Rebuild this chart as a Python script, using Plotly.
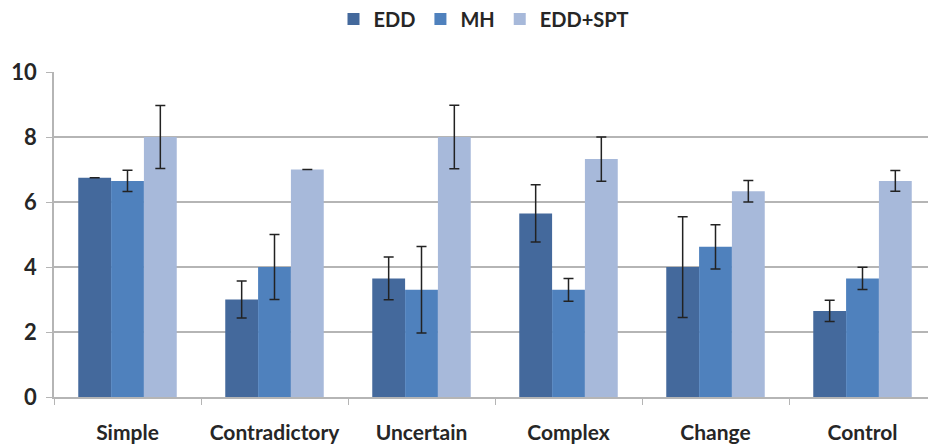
import plotly.graph_objects as go

categories = ["Simple", "Contradictory", "Uncertain", "Complex", "Change", "Control"]
edd = [6.75, 3.0, 3.65, 5.65, 4.0, 2.65]
edd_err = [0.0, 0.57, 0.66, 0.88, 1.55, 0.33]
mh = [6.65, 4.0, 3.3, 3.3, 4.62, 3.65]
mh_err = [0.33, 1.0, 1.33, 0.35, 0.68, 0.34]
spt = [8.0, 7.0, 8.0, 7.32, 6.33, 6.65]
spt_err = [0.97, 0.0, 0.98, 0.68, 0.33, 0.32]

series = [
    ("EDD", edd, edd_err, "#44699c"),
    ("MH", mh, mh_err, "#4f81bd"),
    ("EDD+SPT", spt, spt_err, "#a7b9da"),
]

fig = go.Figure()
for name, vals, errs, color in series:
    fig.add_trace(go.Bar(
        name=name, x=categories, y=vals, marker_color=color,
        marker_line_width=0,
        error_y=dict(type="data", array=errs, visible=True,
                     color="#222222", thickness=1.5, width=5),
    ))

W, H = 928, 439  # page body has an 8px default margin
font_family = "Lato, 'Open Sans', sans-serif"
fig.update_layout(
    width=W, height=H,
    barmode="group", bargap=0.33, bargroupgap=0,
    plot_bgcolor="white", paper_bgcolor="white",
    margin=dict(l=46, r=0, t=64, b=50, autoexpand=False),
    font=dict(family=font_family, size=22, color="#262626"),
    legend=dict(orientation="h", x=476 / W, xref="container", xanchor="center",
                y=1 - 11 / H, yref="container", yanchor="middle",
                font=dict(size=20, family=font_family, weight="bold"),
                itemwidth=30, traceorder="normal", tracegroupgap=0),
    showlegend=True,
)
fig.update_yaxes(range=[0, 10], dtick=2, showgrid=True, gridcolor="#b5b5b5", gridwidth=1.5,
                 showline=True, linecolor="#b5b5b5", linewidth=1.5,
                 ticks="outside", ticklen=6, tickcolor="#b5b5b5", ticklabelstandoff=5,
                 tickfont=dict(size=22, weight="bold"), zeroline=False)
fig.update_xaxes(showline=True, linecolor="#b5b5b5", linewidth=1.5,
                 ticks="outside", tickson="boundaries", ticklen=6, tickcolor="#b5b5b5",
                 ticklabelstandoff=16,
                 tickfont=dict(size=21, weight="bold"))

fig.write_html("out.html")
